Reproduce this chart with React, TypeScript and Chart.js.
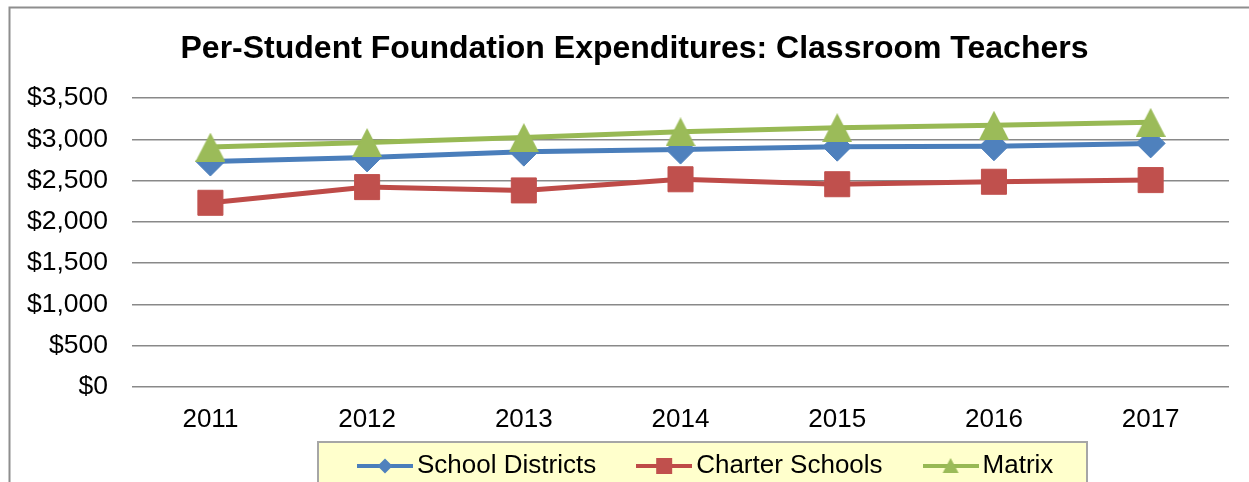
import { useEffect, useRef } from 'react';
import { Chart, registerables } from 'chart.js';

Chart.register(...registerables);

// ---------- data ----------
const chartTitle = 'Per-Student Foundation Expenditures: Classroom Teachers';
const years = ['2011', '2012', '2013', '2014', '2015', '2016', '2017'];
const seriesNames = ['School Districts', 'Charter Schools', 'Matrix'];
const schoolDistricts = [2730, 2780, 2850, 2875, 2910, 2915, 2950];
const charterSchools = [2230, 2420, 2380, 2515, 2455, 2485, 2505];
const matrix = [2905, 2960, 3020, 3090, 3140, 3170, 3205];
const yMin = 0;
const yMax = 3500;
const yStep = 500;

// ---------- styles ----------
const W = 1249;
const H = 482;
const FONT = "'Liberation Sans', Arial, Helvetica, sans-serif";
const BLUE_LINE = '#4A7EBB';
const BLUE = '#4F81BD';
const RED_LINE = '#BE4B48';
const RED = '#C0504D';
const GREEN_LINE = '#98B954';
const GREEN = '#9BBB59';

function makeCanvas(w: number, h: number, draw: (ctx: CanvasRenderingContext2D) => void) {
  const c = document.createElement('canvas');
  c.width = w;
  c.height = h;
  const ctx = c.getContext('2d') as CanvasRenderingContext2D;
  draw(ctx);
  return c;
}

function triangleImage(w: number, h: number, color: string) {
  return makeCanvas(w, h, (ctx) => {
    ctx.fillStyle = color;
    ctx.beginPath();
    ctx.moveTo(w / 2, 0);
    ctx.lineTo(w, h);
    ctx.lineTo(0, h);
    ctx.closePath();
    ctx.fill();
  });
}

function legendIcon(lineColor: string, markerColor: string, shape: string) {
  const w = 56;
  const h = 20;
  return makeCanvas(w, h, (ctx) => {
    const cy = h / 2;
    const cx = w / 2;
    ctx.strokeStyle = lineColor;
    ctx.lineWidth = 4;
    ctx.beginPath();
    ctx.moveTo(0, cy);
    ctx.lineTo(w, cy);
    ctx.stroke();
    ctx.fillStyle = markerColor;
    ctx.beginPath();
    if (shape === 'diamond') {
      const r = 7.5;
      ctx.moveTo(cx, cy - r);
      ctx.lineTo(cx + r, cy);
      ctx.lineTo(cx, cy + r);
      ctx.lineTo(cx - r, cy);
    } else if (shape === 'square') {
      const r = 8;
      ctx.rect(cx - r, cy - r, 2 * r, 2 * r);
    } else {
      ctx.moveTo(cx, cy - 8);
      ctx.lineTo(cx + 8, cy + 7);
      ctx.lineTo(cx - 8, cy + 7);
    }
    ctx.closePath();
    ctx.fill();
  });
}

export default function App() {
  const ref = useRef<HTMLCanvasElement>(null);

  useEffect(() => {
    const canvas = ref.current;
    if (!canvas) return;

    const triImg = triangleImage(30, 29, GREEN);
    const icons = [
      legendIcon(BLUE_LINE, BLUE, 'diamond'),
      legendIcon(RED_LINE, RED, 'square'),
      legendIcon(GREEN_LINE, GREEN, 'triangle'),
    ];

    const decorPlugin = {
      id: 'decor',
      afterLayout(chart: any) {
        const lg = chart.legend;
        if (lg) {
          lg.left = 317;
          lg.right = W + 300;
          lg.top = 404;
          lg.bottom = H;
        }
        const tb = chart.titleBlock;
        if (tb) {
          tb.left = 40;
          tb.right = 1229;
        }
      },
      beforeDraw(chart: any) {
        const ctx = chart.ctx as CanvasRenderingContext2D;
        ctx.save();
        ctx.fillStyle = '#FFFFFF';
        ctx.fillRect(0, 0, W, H);
        ctx.strokeStyle = '#8E8E8E';
        ctx.lineWidth = 2;
        ctx.beginPath();
        ctx.moveTo(9.5, H + 5);
        ctx.lineTo(9.5, 7.5);
        ctx.lineTo(W + 5, 7.5);
        ctx.stroke();
        ctx.fillStyle = '#FFFFCC';
        ctx.fillRect(318, 442, 769, 60);
        ctx.strokeStyle = '#A6A6A6';
        ctx.lineWidth = 2;
        ctx.strokeRect(318, 442, 769, 60);
        ctx.restore();
      },
    };

    const chart = new Chart(canvas, {
      type: 'line',
      data: {
        labels: years,
        datasets: [
          {
            label: seriesNames[0],
            data: schoolDistricts,
            borderColor: BLUE_LINE,
            borderWidth: 5,
            pointStyle: 'rectRot',
            pointRadius: 14.5,
            pointBackgroundColor: BLUE,
            pointBorderColor: BLUE,
            pointBorderWidth: 1,
            tension: 0,
            order: 1,
          },
          {
            label: seriesNames[1],
            data: charterSchools,
            borderColor: RED_LINE,
            borderWidth: 5,
            pointStyle: 'rect',
            pointRadius: 17.7,
            pointBackgroundColor: RED,
            pointBorderColor: RED,
            pointBorderWidth: 1,
            tension: 0,
            order: 2,
          },
          {
            label: seriesNames[2],
            data: matrix,
            borderColor: GREEN_LINE,
            borderWidth: 5,
            pointStyle: triImg as any,
            pointRadius: 15,
            pointBackgroundColor: GREEN,
            pointBorderColor: GREEN,
            tension: 0,
            order: 0,
          },
        ],
      },
      options: {
        animation: false,
        responsive: false,
        maintainAspectRatio: false,
        devicePixelRatio: 1,
        layout: { padding: { left: 3, right: 20, top: 0, bottom: -17 } },
        plugins: {
          title: {
            display: true,
            text: chartTitle,
            color: '#000000',
            font: { family: FONT, size: 32, weight: 'bold', lineHeight: 1.2 },
            padding: { top: 29.5, bottom: 30.1 },
          },
          legend: {
            display: true,
            position: 'bottom',
            align: 'start',
            maxHeight: 47,
            labels: {
              usePointStyle: true,
              pointStyleWidth: 38,
              padding: 49,
              color: '#000000',
              font: { family: FONT, size: 26 },
              generateLabels: (c: any) =>
                c.data.datasets.map((ds: any, i: number) => ({
                  text: ds.label,
                  pointStyle: icons[i],
                  fillStyle: 'rgba(0,0,0,0)',
                  strokeStyle: 'rgba(0,0,0,0)',
                  lineWidth: 0,
                  hidden: false,
                  datasetIndex: i,
                  fontColor: '#000000',
                })),
            },
          },
          tooltip: { enabled: false },
        },
        scales: {
          x: {
            offset: true,
            grid: { display: false, drawTicks: false },
            border: { display: false },
            ticks: {
              color: '#000000',
              padding: 17,
              font: { family: FONT, size: 26 },
              maxRotation: 0,
            },
          },
          y: {
            min: yMin,
            max: yMax,
            grid: { color: '#898989', lineWidth: 1.5, drawTicks: false },
            border: { display: false },
            ticks: {
              stepSize: yStep,
              color: '#000000',
              padding: 24,
              font: { family: FONT, size: 26.5 },
              callback: (v: any) => '$' + Number(v).toLocaleString('en-US'),
            },
          },
        },
      },
      plugins: [decorPlugin],
    } as any);

    return () => chart.destroy();
  }, []);

  return (
    <div style={{ position: 'absolute', left: 0, top: 0, width: W, height: H, background: '#ffffff' }}>
      <canvas ref={ref} width={W} height={H} style={{ display: 'block', width: W, height: H }} />
    </div>
  );
}
